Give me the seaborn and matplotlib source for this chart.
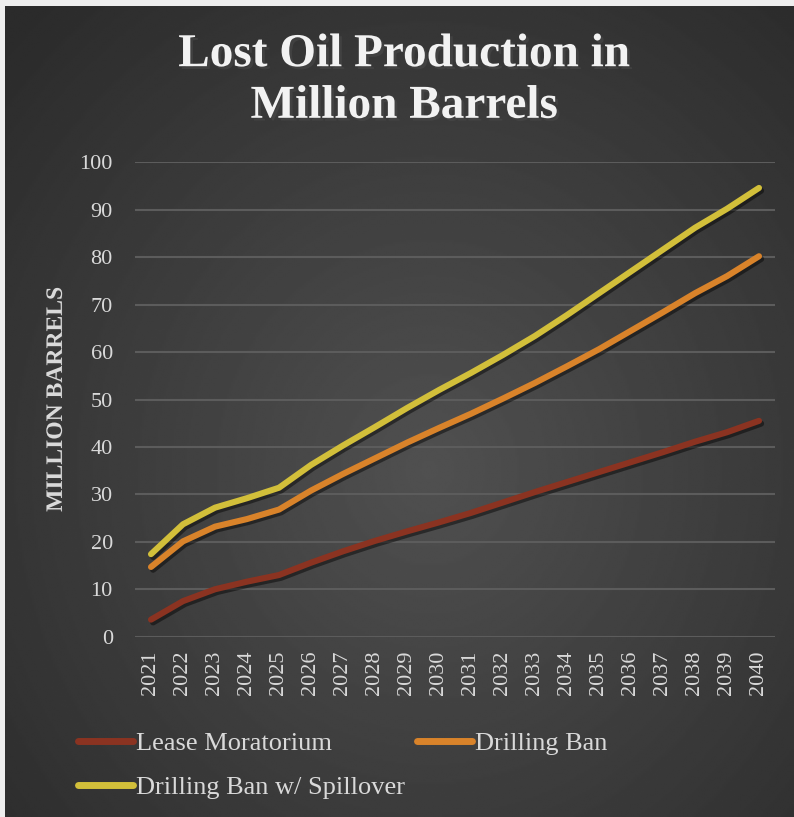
import numpy as np
import pandas as pd
import matplotlib
matplotlib.use("Agg")
import matplotlib.pyplot as plt
import matplotlib.patheffects as pe
from matplotlib.lines import Line2D
import seaborn as sns

# ---- data -------------------------------------------------------------
years = list(range(2021, 2041))
lease_moratorium = [3.6, 7.5, 10.0, 11.6, 13.0, 15.6, 18.0, 20.2, 22.2, 24.1,
                    26.1, 28.3, 30.5, 32.6, 34.7, 36.8, 38.9, 41.1, 43.1, 45.5]
drilling_ban = [14.7, 20.1, 23.2, 24.8, 26.8, 30.8, 34.3, 37.6, 40.9, 44.0,
                47.0, 50.2, 53.5, 57.0, 60.6, 64.5, 68.4, 72.4, 76.0, 80.2]
drilling_ban_spill = [17.4, 23.7, 27.2, 29.2, 31.4, 36.2, 40.3, 44.2, 48.2, 52.0,
                      55.6, 59.4, 63.4, 67.8, 72.4, 77.0, 81.6, 86.2, 90.2, 94.6]
series_names = ["Lease Moratorium", "Drilling Ban", "Drilling Ban w/ Spillover"]
y_ticks = [0, 10, 20, 30, 40, 50, 60, 70, 80, 90, 100]

title_text = "Lost Oil Production in\nMillion Barrels"
y_label = "MILLION BARRELS"

colors = ["#8b3321", "#d9832a", "#d2bf3a"]

df = pd.DataFrame({
    "year": years * 3,
    "value": lease_moratorium + drilling_ban + drilling_ban_spill,
    "series": [series_names[0]] * 20 + [series_names[1]] * 20 + [series_names[2]] * 20,
})

# ---- figure -----------------------------------------------------------
sns.set_theme(style="dark")
plt.rcParams["font.family"] = ["Liberation Serif", "DejaVu Serif"]

W, H = 794, 817
fig = plt.figure(figsize=(W / 100, H / 100), dpi=100)
fig.patch.set_facecolor("#eeeeee")

# dark panel with a soft radial glow
bg = fig.add_axes([0, 0, 1, 1], zorder=0)
bg.set_xlim(0, W)
bg.set_ylim(H, 0)
bg.axis("off")
gx, gy = np.meshgrid(np.linspace(5, W, 400), np.linspace(6, H, 400))
r = np.sqrt(((gx - 430) / 520) ** 2 + ((gy - 470) / 560) ** 2)
shade = np.clip(0.315 - 0.13 * r, 0.17, 0.315)
bg.imshow(shade, cmap="gray", vmin=0, vmax=1, extent=[5, W, H, 6],
          interpolation="bilinear", aspect="auto")

# plotting area
left, right = 135, 775
top, bottom = 162.3, 636.7
ax = fig.add_axes([left / W, 1 - bottom / H, (right - left) / W, (bottom - top) / H], zorder=1)
ax.set_facecolor("none")

sns.lineplot(data=df, x="year", y="value", hue="series", palette=colors,
             hue_order=series_names, linewidth=4.4, ax=ax, legend=False)
for line in ax.lines:
    line.set_solid_capstyle("round")
    line.set_solid_joinstyle("round")
    line.set_path_effects([pe.SimpleLineShadow(offset=(1.5, -2.0), shadow_color="black", alpha=0.45),
                           pe.Normal()])

ax.set_xlim(years[0] - 0.5, years[-1] + 0.5)
ax.set_ylim(0, 100)
ax.set_yticks(y_ticks)
ax.set_xticks(years)
ax.set_xticklabels([str(y) for y in years], rotation=90)
ax.tick_params(axis="both", colors="#d9d9d9", labelsize=16, length=0)
ax.tick_params(axis="y", pad=16)
ax.tick_params(axis="x", pad=10)
ax.grid(axis="y", color="#5c5c5c", linewidth=1.5)
ax.grid(axis="x", visible=False)
ax.set_axisbelow(True)
for s in ax.spines.values():
    s.set_visible(False)
ax.set_xlabel("")
ax.set_ylabel(y_label, color="#d9d9d9", fontsize=17, fontweight="bold", labelpad=9)
ax.yaxis.label.set_path_effects([pe.SimplePatchShadow(offset=(1, -1), alpha=0.5), pe.Normal()])

# title
fig.text(404 / W, 1 - 81 / H, title_text, ha="center", va="center", color="#f2f2f2",
         fontsize=34, fontweight="bold", linespacing=1.3,
         path_effects=[pe.SimplePatchShadow(offset=(2, -2), alpha=0.6), pe.Normal()])

# legend: two columns filled row by row
order = [0, 2, 1]
handles = [Line2D([0], [0], color=colors[i], linewidth=5, solid_capstyle="round") for i in order]
labels = [series_names[i] for i in order]
leg = fig.legend(handles, labels, ncol=2, loc="upper left",
                 bbox_to_anchor=(54 / W, 1 - 708 / H), frameon=False,
                 fontsize=19, handlelength=2.1, handletextpad=0.1,
                 columnspacing=0.45, labelspacing=0.78)
for t in leg.get_texts():
    t.set_color("#d9d9d9")

fig.savefig("out.png", dpi=100, facecolor=fig.get_facecolor())
